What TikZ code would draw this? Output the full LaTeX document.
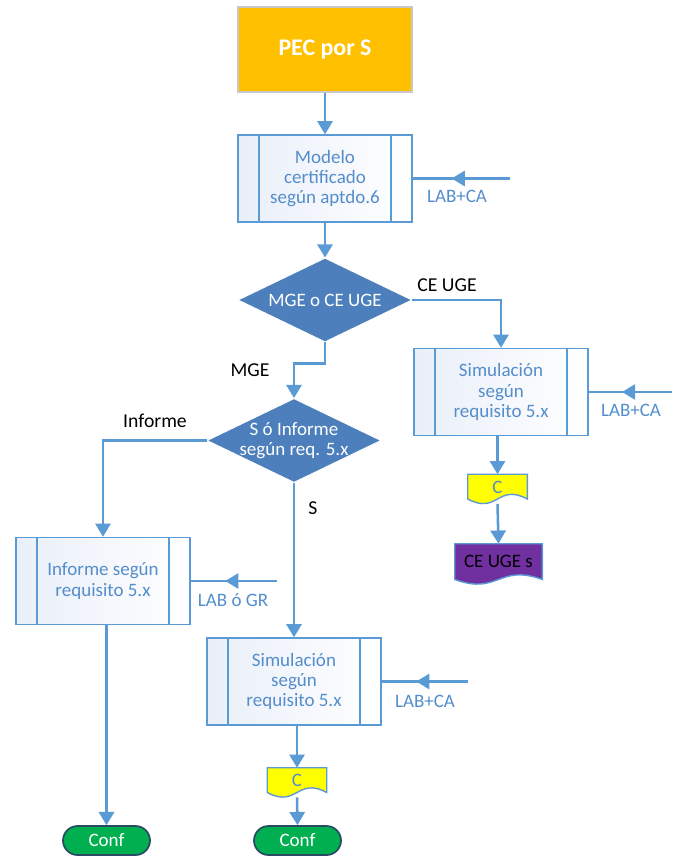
\documentclass[tikz,border=0pt]{standalone}
\usepackage{fontspec}
\setmainfont{Carlito}
\usetikzlibrary{arrows.meta,
                shapes.geometric,
                shapes.misc,
                backgrounds,
                decorations.markings}

\definecolor{flowblue}{RGB}{91,155,213}
\definecolor{textblue}{RGB}{84,141,204}
\definecolor{decblue}{RGB}{76,127,187}
\definecolor{procshade}{RGB}{233,239,249}
\definecolor{pecorange}{RGB}{255,192,0}
\definecolor{pecborder}{RGB}{200,200,200}
\definecolor{docyellow}{RGB}{255,255,0}
\definecolor{docpurple}{RGB}{112,48,160}
\definecolor{confgreen}{RGB}{0,176,80}
\definecolor{confborder}{RGB}{40,74,98}

\tikzset{
    flow/.style={-{Triangle[width=0.38cm, length=0.33cm]}, line width=1.8pt, color=flowblue},
    feed/.style={line width=1.8pt, color=flowblue, postaction={decorate},
        decoration={markings, mark=at position 0.6 with {\arrow{Triangle[width=0.38cm, length=0.33cm]}}}},
    pec/.style={rectangle, fill=pecorange, draw=pecborder, line width=1pt, text=white,
        font=\fontsize{17}{20}\selectfont\bfseries, minimum width=4.35cm, minimum height=2.125cm},
    proc/.style={rectangle, draw=flowblue, line width=1pt, left color=procshade, right color=white,
        text=textblue, align=center, font=\fontsize{13.5}{14.4}\selectfont,
        minimum width=4.35cm, minimum height=2.175cm,
        path picture={\draw[flowblue, line width=1pt]
            ([xshift=0.53cm]path picture bounding box.north west) -- ([xshift=0.53cm]path picture bounding box.south west)
            ([xshift=-0.53cm]path picture bounding box.north east) -- ([xshift=-0.53cm]path picture bounding box.south east);}},
    decision/.style={diamond, fill=decblue, draw=white, line width=0.6pt, inner sep=0pt,
        minimum width=4.35cm, minimum height=2.1cm},
    dtext/.style={text=white, align=center, font=\fontsize{13.5}{14.4}\selectfont},
    doctext/.style={inner sep=0pt, font=\fontsize{13.5}{14.4}\selectfont},
    term/.style={rounded rectangle, fill=confgreen, draw=confborder, line width=1.2pt, text=white,
        font=\fontsize{13.5}{14.4}\selectfont, minimum width=2.175cm, minimum height=0.725cm, inner sep=0pt},
    branch/.style={text=black, font=\fontsize{14}{16}\selectfont},
    feedlabel/.style={text=textblue, font=\fontsize{13.5}{14.4}\selectfont}
}

% document shape with a wavy bottom, drawn behind the node text
\newcommand{\docwave}[2]{%
    \begin{scope}[on background layer]
    \draw[draw=flowblue, line width=1pt, fill=#2]
        (#1.north west) -- (#1.north east) -- ([yshift=0.12cm]#1.south east)
        .. controls ([yshift=0.52cm]#1.south) and ([yshift=-0.28cm]#1.south) .. ([yshift=0.12cm]#1.south west) -- cycle;
    \end{scope}}

\begin{document}
\begin{tikzpicture}[x=0.025cm, y=-0.025cm]
    \useasboundingbox (0,0) rectangle (673,860);

    % main column
    \node[pec] (pec) at (325,49.5) {PEC por S};
    \node[proc] (model) at (325,178.5) {Modelo\\certificado\\según aptdo.6};
    \node[decision] (dmge) at (325,300) {};
    \node[dtext] (dmgetxt) at (dmge) {MGE o CE UGE};
    \node[decision] (dsinf) at (294,440.5) {};
    \node[dtext] (dsinftxt) at (dsinf) {S ó Informe\\según req. 5.x};

    % right branch
    \node[proc] (simr) at (501,392) {Simulación\\según\\requisito 5.x};
    \node[minimum width=1.475cm, minimum height=0.725cm] (cr) at (497.5,489) {};
    \node[doctext, text=textblue] (crtxt) at ([yshift=0.05cm]cr) {C};
    \docwave{cr}{docyellow}
    \node[minimum width=2.175cm, minimum height=1cm] (ceuges) at (498.5,564) {};
    \node[doctext, text=black] (ceugestxt) at ([yshift=0.06cm]ceuges) {CE UGE s};
    \docwave{ceuges}{docpurple}

    % left branch
    \node[proc] (inf) at (103,581) {Informe según\\requisito 5.x};
    \node[term] (confl) at (106.5,840.5) {Conf};

    % middle branch
    \node[proc] (simm) at (294,681.5) {Simulación\\según\\requisito 5.x};
    \node[minimum width=1.475cm, minimum height=0.725cm] (cm) at (297,782.5) {};
    \node[doctext, text=textblue] (cmtxt) at ([yshift=0.05cm]cm) {C};
    \docwave{cm}{docyellow}
    \node[term] (confm) at (297.5,840.5) {Conf};

    % feeds
    \coordinate (fmodel) at (510,178.5);
    \coordinate (fsimr) at (672,392);
    \coordinate (finf) at (277,581);
    \coordinate (fsimm) at (468,681.5);

    % connectors
    \draw[flow] (pec) -- (model);
    \draw[flow] (model) -- (dmge);
    \draw[flow] (dmge.east) -| (simr.north);
    \draw[flow] (dmge.south) -- ++(0,21) -| (dsinf.north);
    \draw[flow] (dsinf.west) -| (inf.north);
    \draw[flow] (dsinf.south) -- (simm.north);
    \draw[flow] (cr |- simr.south) -- (cr.north);
    \draw[flow] (cr.south) -- (ceuges.north);
    \draw[flow] (confl |- inf.south) -- (confl.north);
    \draw[flow] (cm |- simm.south) -- (cm.north);
    \draw[flow] (cm.south) -- (confm.north);

    \draw[feed] (fmodel) -- (model.east);
    \draw[feed] (fsimr) -- (simr.east);
    \draw[feed] (finf) -- (inf.east);
    \draw[feed] (fsimm) -- (simm.east);

    % labels
    \node[branch] (lceuge) at (447,285) {CE UGE};
    \node[branch] (lmge) at (250,370) {MGE};
    \node[branch] (linforme) at (155,421) {Informe};
    \node[branch] (ls) at (313,508) {S};
    \node[feedlabel] (lfmodel) at (457,196) {LAB+CA};
    \node[feedlabel] (lfsimr) at (631,410) {LAB+CA};
    \node[feedlabel] (lfinf) at (233,600) {LAB ó GR};
    \node[feedlabel] (lfsimm) at (425,701) {LAB+CA};
\end{tikzpicture}
\end{document}
